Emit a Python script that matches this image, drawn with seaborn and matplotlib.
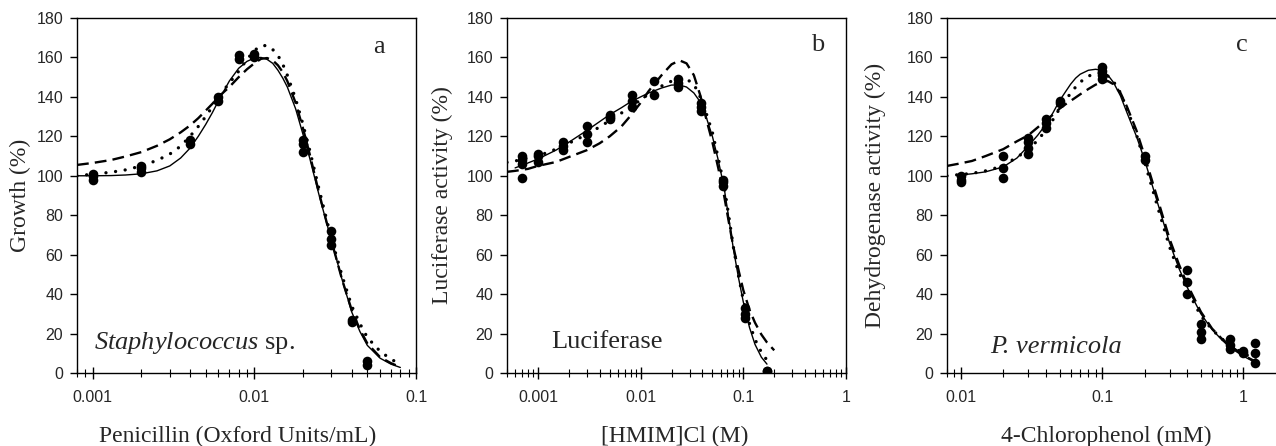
import numpy as np
import pandas as pd
import matplotlib
matplotlib.use("Agg")
import matplotlib.pyplot as plt
import seaborn as sns
from matplotlib.ticker import FixedLocator, NullFormatter

nan = np.nan

# ---- panel a: penicillin / Staphylococcus sp.
a_pts_x = [0.001, 0.001, 0.001, 0.002, 0.002, 0.002, 0.004, 0.004, 0.006, 0.006,
           0.008, 0.008, 0.01, 0.01, 0.02, 0.02, 0.02, 0.03, 0.03, 0.03, 0.04, 0.04, 0.05, 0.05]
a_pts_y = [98, 100, 101, 102, 104, 105, 116, 118, 138, 140,
           159, 161, 160, 162, 112, 116, 118, 65, 68, 72, 26, 27, 4, 6]
a_cx = [0.0008, 0.001, 0.0013, 0.0016, 0.002, 0.0025, 0.003, 0.0035, 0.004, 0.0045,
        0.005, 0.0055, 0.006, 0.007, 0.008, 0.009, 0.01, 0.011, 0.012, 0.013, 0.014,
        0.015, 0.016, 0.018, 0.02, 0.022, 0.025, 0.03, 0.035, 0.04, 0.045, 0.05,
        0.06, 0.07, 0.08]
a_solid = [100, 100, 100.1, 100.4, 101, 102.5, 105, 109, 114, 120,
           126, 132, 138, 148, 154.5, 158, 159.7, 160, 159, 157, 153.5,
           149.5, 145, 134, 121, 109, 91, 67, 47, 31, 21, 14,
           7.5, 4.5, 2.8]
a_dashed = [105.5, 106.5, 108, 109.8, 112, 115.2, 118.5, 122, 125.5, 129.2,
            133, 136.5, 140, 145, 150, 154, 157, 159.3, 159.7, 158.5, 156,
            152.5, 148, 137, 124, 111, 92, 67, 47, 32, 22, 15,
            8, 5, 3]
a_dotted = [100, 100.8, 101.8, 103, 105, 107.8, 111, 115, 120, 125,
            130, 135, 140, 147, 153, 159, 163.5, 166, 166, 164, 161,
            156.5, 151, 139, 126, 113, 94, 68, 49, 34, 25, 18,
            11, 7, 4.5]

# ---- panel b: [HMIM]Cl / luciferase
b_pts_x = [0.0007, 0.0007, 0.0007, 0.0007, 0.001, 0.001, 0.001, 0.00175, 0.00175, 0.00175,
           0.003, 0.003, 0.003, 0.005, 0.005, 0.005, 0.0082, 0.0082, 0.0082, 0.0136, 0.0136,
           0.023, 0.023, 0.023, 0.039, 0.039, 0.039, 0.064, 0.064, 0.064,
           0.105, 0.105, 0.105, 0.17, 0.17]
b_pts_y = [99, 106, 108, 110, 107, 110, 111, 113, 115, 117,
           117, 121, 125, 129, 130, 131, 135, 138, 141, 141, 148,
           145, 147, 149, 133, 135, 137, 95, 97, 98,
           28, 30, 33, 1, 1]
b_cx = [0.0005, 0.0006, 0.0008, 0.001, 0.0015, 0.002, 0.003, 0.004, 0.005, 0.0065,
        0.008, 0.01, 0.012, 0.016, 0.02, 0.024, 0.028, 0.033, 0.038, 0.044,
        0.05, 0.057, 0.065, 0.072, 0.08, 0.09, 0.1, 0.115, 0.13, 0.15, 0.17, 0.2]
b_solid = [nan, 104, 106.5, 108.5, 113, 117, 123, 127.5, 131, 134.5,
           137.5, 140, 142, 144.5, 146, 146, 145, 142, 137.5, 129,
           120, 108, 94, 79, 63, 48, 36, 23, 14.5, 8, 4.5, nan]
b_dashed = [102, 102.5, 103.5, 105, 107, 109.5, 113, 116.5, 120, 125,
            130.5, 137, 143, 151, 156.5, 158.5, 157, 151, 141, 128,
            117, 104, 90, 77, 64, 52, 42, 32, 25.5, 19.5, 15.5, 11.5]
b_dotted = [106.8, 107.5, 109, 110, 113.5, 116.5, 121, 124.8, 128, 131.8,
            135, 138.5, 141.5, 145.5, 148, 149, 149, 146.5, 140, 131,
            122, 109, 95, 80, 64, 49, 37, 25, 17, 10.5, 6.5, nan]

# ---- panel c: 4-chlorophenol / P. vermicola
c_pts_x = [0.01, 0.01, 0.01, 0.02, 0.02, 0.02, 0.03, 0.03, 0.03, 0.03, 0.04, 0.04, 0.04,
           0.05, 0.05, 0.1, 0.1, 0.1, 0.1, 0.2, 0.2, 0.4, 0.4, 0.4, 0.5, 0.5, 0.5,
           0.8, 0.8, 0.8, 1.0, 1.0, 1.2, 1.2, 1.2]
c_pts_y = [97, 98, 100, 99, 104, 110, 111, 114, 117, 119, 124, 127, 129,
           137, 138, 149, 151, 153, 155, 108, 110, 40, 46, 52, 17, 21, 25,
           12, 14, 17, 10, 11, 5, 10, 15]
c_cx = [0.008, 0.0095, 0.012, 0.015, 0.02, 0.025, 0.03, 0.035, 0.04, 0.045,
        0.05, 0.055, 0.06, 0.065, 0.07, 0.08, 0.09, 0.1, 0.11, 0.12,
        0.135, 0.15, 0.175, 0.2, 0.25, 0.3, 0.35, 0.4, 0.5, 0.6,
        0.7, 0.8, 1.0, 1.2, 1.3]
c_solid = [nan, 100.3, 101, 102, 104.5, 109, 115, 120.5, 126, 132,
           138, 142.5, 146.5, 149.5, 151.5, 153.5, 154, 153.5, 151, 147.5,
           140.5, 132, 120, 108, 85, 66, 53, 43.5, 30, 22,
           17, 13, 8.5, 5.5, nan]
c_dashed = [105, 106, 107.5, 110, 113.5, 117.5, 120.5, 124.5, 128, 131,
            134, 136.2, 138, 139.7, 141.3, 144, 146.2, 147.5, 148, 146.5,
            142, 135, 123, 110, 87, 68, 55, 45, 31, 22.5,
            17.5, 14, 9, 6, nan]
c_dotted = [100, 100.5, 101.2, 102.5, 105, 109.5, 113, 118, 123, 128.5,
            134, 138, 142, 145, 147.5, 150.5, 152, 152, 150.5, 148,
            142, 134, 121, 107, 83, 64, 51, 42, 29, 22,
            17.5, 14, 10, 7, 5.5]

sns.set_style("ticks")
plt.rcParams['font.family'] = ['Liberation Sans', 'DejaVu Sans']
plt.rcParams['mathtext.fontset'] = 'custom'
plt.rcParams['mathtext.rm'] = 'Liberation Serif'
plt.rcParams['mathtext.it'] = 'Liberation Serif:italic'

serif = ['Liberation Serif', 'DejaVu Serif']

fig = plt.figure(figsize=(12.76, 4.46), dpi=100)
W, H = 1276, 446


def panel(left_px, pts_x, pts_y, cx, solid, dashed, dotted, xlim, majors,
          xlabel, ylabel, letter, note, note_pos, ylab_x, xlab_x, note_style='normal'):
    ax = fig.add_axes([left_px / W, 73 / H, 339 / W, 355 / H])
    ax.set_xscale('log')

    sns.lineplot(x=cx, y=dashed, ax=ax, color='black', lw=1.7, estimator=None,
                 sort=False, linestyle=(0, (5, 2.6)))
    sns.lineplot(x=cx, y=dotted, ax=ax, color='black', lw=2.4, estimator=None,
                 sort=False, linestyle=(0, (0.01, 2.9)), dash_capstyle='round')
    sns.lineplot(x=cx, y=solid, ax=ax, color='black', lw=1.0, estimator=None,
                 sort=False)
    sns.scatterplot(x=pts_x, y=pts_y, ax=ax, color='black', s=48, linewidth=0,
                    zorder=4)

    ax.set_xlim(*xlim)
    ax.set_ylim(0, 180)
    ax.set_yticks(range(0, 181, 20))
    ax.xaxis.set_major_locator(FixedLocator(majors))
    ax.set_xticklabels([('%g' % m) for m in majors])
    minors = [k * 10.0 ** e for e in range(-5, 1) for k in range(2, 10)]
    minors = [m for m in minors if xlim[0] <= m <= xlim[1]]
    ax.xaxis.set_minor_locator(FixedLocator(minors))
    ax.xaxis.set_minor_formatter(NullFormatter())
    ax.tick_params(axis='x', which='major', direction='inout', length=9, width=1,
                   pad=8, labelsize=11.5, color='black')
    ax.tick_params(axis='x', which='minor', direction='inout', length=6, width=0.8,
                   color='black')
    ax.tick_params(axis='y', which='major', direction='out', length=5, width=1,
                   pad=5, labelsize=11.5, color='black')
    for s in ax.spines.values():
        s.set_visible(True)
        s.set_linewidth(1.0)
        s.set_color('black')

    ax.set_xlabel(xlabel, fontsize=17, family=serif)
    ax.xaxis.set_label_coords(xlab_x, -0.148)
    ax.set_ylabel(ylabel, fontsize=17, family=serif)
    ax.yaxis.set_label_coords(ylab_x, 0.5)

    ax.text(*letter[1], letter[0], transform=ax.transAxes, fontsize=19,
            family=serif, ha='center', va='center')
    ax.text(*note_pos, note, transform=ax.transAxes, fontsize=19, family=serif,
            style=note_style, ha='left', va='center')
    return ax


panel(77, a_pts_x, a_pts_y, a_cx, a_solid, a_dashed, a_dotted, (0.0008, 0.1),
      [0.001, 0.01, 0.1], 'Penicillin (Oxford Units/mL)', 'Growth (%)',
      ('a', (0.89, 0.918)), r'$\it{Staphylococcus}$ sp.', (0.05, 0.085), -0.135, 0.475)

panel(507, b_pts_x, b_pts_y, b_cx, b_solid, b_dashed, b_dotted, (0.0005, 1),
      [0.001, 0.01, 0.1, 1], '[HMIM]Cl (M)', 'Luciferase activity (%)',
      ('b', (0.917, 0.924)), 'Luciferase', (0.13, 0.087), -0.16, 0.495)

panel(947, c_pts_x, c_pts_y, c_cx, c_solid, c_dashed, c_dotted, (0.008, 2),
      [0.01, 0.1, 1], '4-Chlorophenol (mM)', 'Dehydrogenase activity (%)',
      ('c', (0.87, 0.924)), 'P. vermicola', (0.127, 0.073), -0.18, 0.47,
      note_style='italic')

fig.savefig('out.png', dpi=100)
